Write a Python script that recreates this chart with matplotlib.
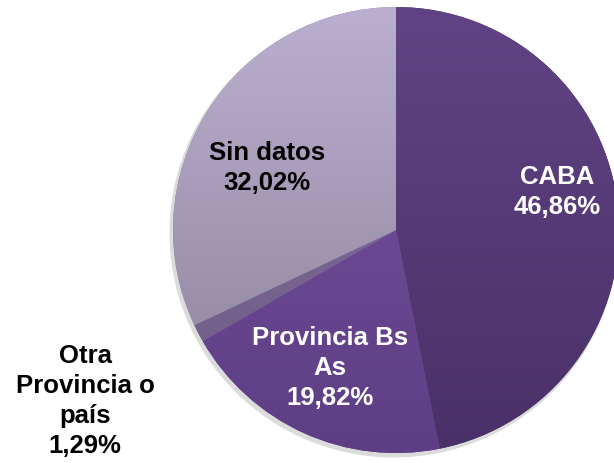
import matplotlib.pyplot as plt
import numpy as np
from matplotlib.colors import LinearSegmentedColormap
from matplotlib.patches import Circle

plt.rcParams['font.family'] = ['Liberation Sans', 'DejaVu Sans']

# datos
categorias = ['CABA', 'Provincia Bs\nAs', 'Otra\nProvincia o\npaís', 'Sin datos']
porcentajes = [46.86, 19.82, 1.29, 32.02]
etiquetas = ['46,86%', '19,82%', '1,29%', '32,02%']

# gradient colors (top, bottom) per slice
colores_arriba = ['#614385', '#7852a2', '#86709f', '#bbafd0']
colores_abajo = ['#4a3068', '#5d3e84', '#6c5a84', '#8b8097']
color_texto = ['white', 'white', 'black', 'black']
# label positions in pixels (x, y from top)
pos_texto = [(557, 192), (330, 368), (85, 401), (267, 168)]

W, H = 614, 464
cx, cy, r = 396, H - 231, 223

fig = plt.figure(figsize=(6.14, 4.64), dpi=100)
ax = fig.add_axes([0, 0, 1, 1])

# soft shadow
ax.add_patch(Circle((cx - 2, cy - 3), r + 1.5, color='#999999', alpha=0.35, zorder=0, lw=0))

wedges, _ = ax.pie(porcentajes, startangle=90, counterclock=False,
                   center=(cx, cy), radius=r,
                   colors=colores_abajo, wedgeprops=dict(linewidth=0))

grad = np.linspace(0, 1, 256).reshape(-1, 1)
for w, c1, c2 in zip(wedges, colores_arriba, colores_abajo):
    cmap = LinearSegmentedColormap.from_list('g', [c1, c2])
    im = ax.imshow(grad, cmap=cmap, aspect='auto', origin='upper',
                   extent=(cx - r, cx + r, cy - r, cy + r), zorder=2)
    im.set_clip_path(w)

for cat, et, col, (x, y) in zip(categorias, etiquetas, color_texto, pos_texto):
    ax.text(x, H - y, cat + '\n' + et, color=col, fontsize=18.5, fontweight='bold',
            ha='center', va='center', linespacing=1.33, zorder=5)

ax.set_xlim(0, W)
ax.set_ylim(0, H)
ax.set_aspect('equal')
ax.axis('off')

plt.savefig('out.png', dpi=100)
